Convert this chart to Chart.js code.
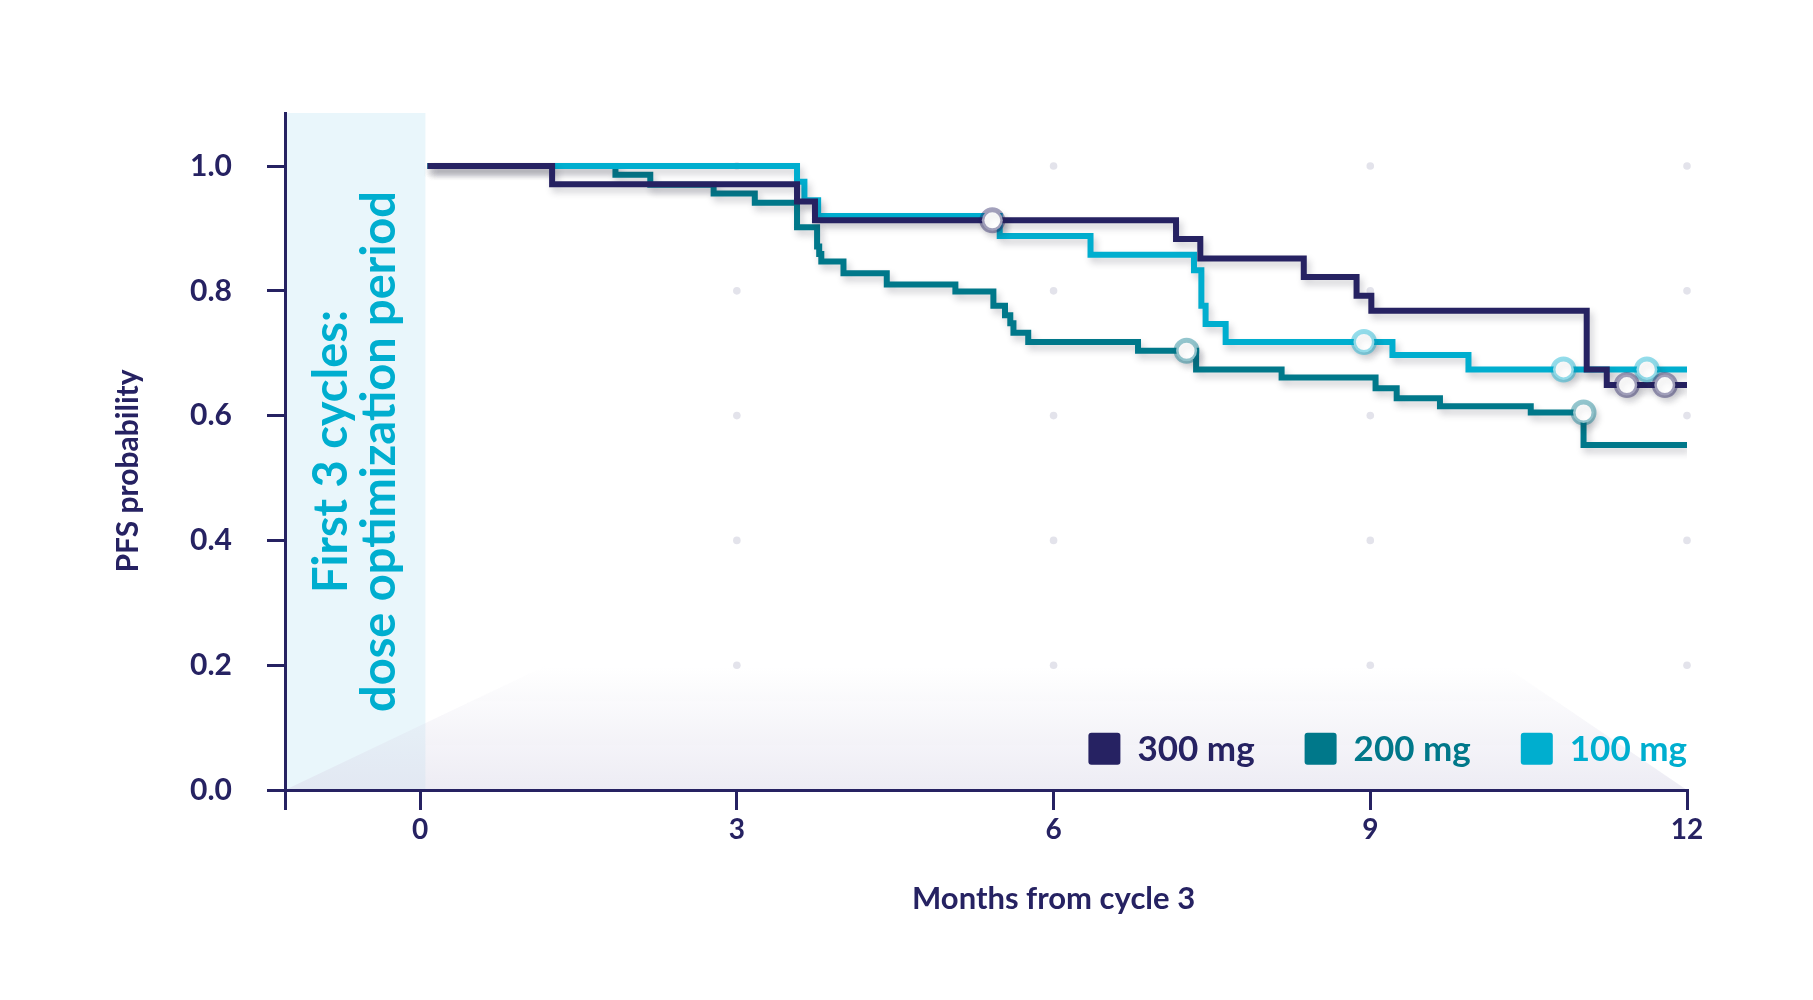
<!DOCTYPE html>
<html lang="en">
<head>
<meta charset="utf-8">
<title>PFS probability by dose</title>
<script src="https://cdn.jsdelivr.net/npm/chart.js@4.4.1/dist/chart.umd.min.js"></script>
<style>
  html, body { margin: 0; padding: 0; background: #fff; }
  #wrap { position: relative; width: 1813px; height: 1000px; }
</style>
</head>
<body>
<div id="wrap"><canvas id="pfs"></canvas></div>
<script>
(function () {
  // Axis ticks / ranges
  const X_TICKS = [0, 3, 6, 9, 12];
  const Y_TICKS = [0, 0.2, 0.4, 0.6, 0.8, 1.0];
  const X_MIN = -1.28;
  const Y_MAX = 1.085;

  const LABELS = ['300 mg', '200 mg', '100 mg'];
  const X_TITLE = 'Months from cycle 3';
  const Y_TITLE = 'PFS probability';
  const NOTE = ['First 3 cycles:', 'dose optimization period'];

  // KM steps: time (months) and survival after the step
  const T300 = [0.07, 1.25, 3.57, 3.74, 7.16, 7.39, 8.37, 8.87, 9.01, 11.05, 11.24, 12.0];
  const S300 = [1.0, 0.971, 0.943, 0.913, 0.883, 0.852, 0.822, 0.792, 0.768, 0.674, 0.649, 0.649];
  const T200 = [0.07, 1.85, 2.18, 2.78, 3.17, 3.57, 3.76, 3.78, 3.80, 4.01, 4.42, 5.07, 5.43, 5.54, 5.59, 5.62, 5.76, 6.80, 7.35, 8.16, 9.05, 9.25, 9.66, 10.52, 11.02, 12.0];
  const S200 = [1.0, 0.986, 0.970, 0.956, 0.941, 0.902, 0.871, 0.859, 0.847, 0.828, 0.810, 0.799, 0.776, 0.761, 0.748, 0.733, 0.718, 0.704, 0.674, 0.661, 0.644, 0.628, 0.615, 0.605, 0.553, 0.553];
  const T100 = [0.07, 3.57, 3.64, 3.77, 5.49, 6.35, 7.33, 7.40, 7.44, 7.63, 9.21, 9.93, 12.0];
  const S100 = [1.0, 0.975, 0.945, 0.920, 0.888, 0.858, 0.833, 0.776, 0.747, 0.718, 0.697, 0.674, 0.674];

  // censored observations
  const C300_T = [5.42, 11.43, 11.79];
  const C300_S = [0.913, 0.649, 0.649];
  const C200_T = [7.26, 11.02];
  const C200_S = [0.704, 0.605];
  const C100_T = [8.94, 10.83, 11.62];
  const C100_S = [0.718, 0.674, 0.674];

  const NAVY = '#262262';
  const TEAL = '#00788a';
  const CYAN = '#00aecf';
  const COLORS = [NAVY, TEAL, CYAN];
  const RINGS = ['rgba(38,34,98,0.42)', 'rgba(0,120,138,0.42)', 'rgba(0,174,207,0.42)'];
  const FONT = 'Lato, "Open Sans", sans-serif';

  const pts = (ts, ss) => ts.map((t, i) => ({ x: t, y: ss[i] }));

  function stepSet(label, ts, ss, idx, order) {
    return {
      label,
      data: pts(ts, ss),
      borderColor: COLORS[idx],
      borderWidth: 6,
      stepped: 'before',
      pointRadius: 0,
      fill: false,
      borderJoinStyle: 'miter',
      borderCapStyle: 'butt',
      order,
    };
  }

  function censorSet(label, ts, ss, idx) {
    return {
      label,
      data: pts(ts, ss),
      showLine: false,
      pointStyle: 'circle',
      pointRadius: 10.5,
      pointBorderWidth: 5,
      pointBackgroundColor: '#ffffff',
      pointBorderColor: RINGS[idx],
      order: 0,
    };
  }

  function rotText(ctx, text, x, y) {
    ctx.save();
    ctx.translate(x, y);
    ctx.rotate(-Math.PI / 2);
    ctx.fillText(text, 0, 0);
    ctx.restore();
  }

  // light band, gray wedge and dot grid behind everything
  const backdrop = {
    id: 'backdrop',
    beforeDraw(chart) {
      const { ctx, chartArea: a, scales: { x, y } } = chart;
      ctx.save();
      ctx.fillStyle = '#e9f6fb';
      ctx.fillRect(a.left, a.top, x.getPixelForValue(0.05) - a.left, a.bottom - a.top);

      const top = y.getPixelForValue(0.2);
      const g = ctx.createLinearGradient(0, top, 0, a.bottom);
      g.addColorStop(0, 'rgba(218,216,232,0)');
      g.addColorStop(1, 'rgba(218,216,232,0.48)');
      ctx.fillStyle = g;
      ctx.beginPath();
      ctx.moveTo(a.left, a.bottom);
      ctx.lineTo(x.getPixelForValue(1.2), top);
      ctx.lineTo(x.getPixelForValue(10.26), top);
      ctx.lineTo(x.getPixelForValue(12), a.bottom);
      ctx.closePath();
      ctx.fill();

      ctx.fillStyle = '#e3e3eb';
      X_TICKS.slice(1).forEach((xv) => {
        Y_TICKS.slice(1).forEach((yv) => {
          ctx.beginPath();
          ctx.arc(x.getPixelForValue(xv), y.getPixelForValue(yv), 3.8, 0, Math.PI * 2);
          ctx.fill();
        });
      });
      ctx.restore();
    },
  };

  const shadow = {
    id: 'shadow',
    beforeDatasetDraw(chart) {
      const c = chart.ctx;
      c.save();
      c.shadowColor = 'rgba(40,40,60,0.22)';
      c.shadowBlur = 7;
      c.shadowOffsetX = 3;
      c.shadowOffsetY = 5;
    },
    afterDatasetDraw(chart) {
      chart.ctx.restore();
    },
  };

  // titles, band note and legend
  const texts = {
    id: 'texts',
    afterDraw(chart) {
      const { ctx, chartArea: a, scales: { x, y } } = chart;
      const midY = (y.getPixelForValue(0) + y.getPixelForValue(1)) / 2;
      ctx.save();
      ctx.textAlign = 'center';
      ctx.textBaseline = 'alphabetic';

      ctx.fillStyle = NAVY;
      ctx.font = `700 30px ${FONT}`;
      rotText(ctx, Y_TITLE, a.left - 147, midY - 7);
      ctx.font = `700 31px ${FONT}`;
      ctx.fillText(X_TITLE, x.getPixelForValue(6), a.bottom + 119);

      ctx.fillStyle = CYAN;
      ctx.font = `700 47px ${FONT}`;
      const mid = (a.top + a.bottom) / 2;
      rotText(ctx, NOTE[0], a.left + 62, mid);
      rotText(ctx, NOTE[1], a.left + 110, mid);

      // legend, right aligned to the plot
      ctx.font = `700 35px ${FONT}`;
      ctx.textAlign = 'left';
      const cy = y.getPixelForValue(0.066);
      let right = a.right;
      for (let i = LABELS.length - 1; i >= 0; i--) {
        const w = ctx.measureText(LABELS[i]).width;
        const tx = right - w;
        const bx = tx - 17 - 32;
        ctx.fillStyle = COLORS[i];
        ctx.beginPath();
        ctx.roundRect(bx, cy - 16, 32, 32, 3);
        ctx.fill();
        ctx.fillText(LABELS[i], tx, cy + 12);
        right = bx - 50;
      }
      ctx.restore();
    },
  };

  const axisStyle = {
    grid: { drawOnChartArea: false, drawTicks: true, color: NAVY, lineWidth: 3 },
    border: { color: NAVY, width: 3 },
  };

  function init() {
    new Chart(document.getElementById('pfs'), {
      type: 'line',
      data: {
        datasets: [
          stepSet(LABELS[0], T300, S300, 0, 1),
          stepSet(LABELS[1], T200, S200, 1, 3),
          stepSet(LABELS[2], T100, S100, 2, 2),
          censorSet(LABELS[0] + ' censored', C300_T, C300_S, 0),
          censorSet(LABELS[1] + ' censored', C200_T, C200_S, 1),
          censorSet(LABELS[2] + ' censored', C100_T, C100_S, 2),
        ],
      },
      options: {
        responsive: true,
        maintainAspectRatio: false,
        animation: false,
        events: [],
        layout: { padding: { top: 113, right: 126, left: 0, bottom: 0 } },
        plugins: { legend: { display: false }, tooltip: { enabled: false } },
        scales: {
          x: {
            type: 'linear',
            min: X_MIN,
            max: 12,
            afterFit: (s) => { s.height = 210; },
            afterBuildTicks: (s) => { s.ticks = [X_MIN, ...X_TICKS].map((value) => ({ value })); },
            ticks: {
              autoSkip: false,
              maxRotation: 0,
              padding: 3,
              color: NAVY,
              font: { family: FONT, size: 28, weight: 'bold' },
              callback: (v) => (X_TICKS.includes(v) ? String(v) : ''),
            },
            grid: { ...axisStyle.grid, tickLength: 20 },
            border: axisStyle.border,
          },
          y: {
            min: 0,
            max: Y_MAX,
            afterFit: (s) => { s.width = 285; },
            afterBuildTicks: (s) => { s.ticks = Y_TICKS.map((value) => ({ value })); },
            ticks: {
              padding: 35,
              color: NAVY,
              font: { family: FONT, size: 30, weight: 'bold' },
              callback: (v) => v.toFixed(1),
            },
            grid: { ...axisStyle.grid, tickLength: 18 },
            border: axisStyle.border,
          },
        },
      },
      plugins: [backdrop, shadow, texts],
    });
  }

  if (document.fonts && document.fonts.load) {
    document.fonts.load(`700 30px Lato`).then(init, init);
  } else {
    init();
  }
})();
</script>
</body>
</html>
